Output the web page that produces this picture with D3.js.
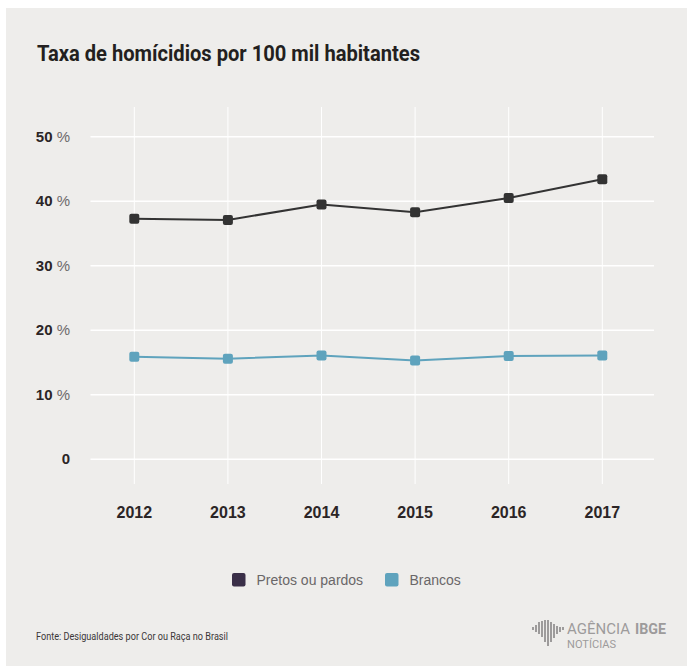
<!DOCTYPE html>
<html>
<head>
<meta charset="utf-8">
<script src="https://cdn.jsdelivr.net/npm/d3@7"></script>
<style>
  body { margin: 0; background: #fff; }
  svg { display: block; }
</style>
</head>
<body>
<div id="chart"></div>
<script>
// chart data
const years   = ["2012", "2013", "2014", "2015", "2016", "2017"];
const pretos  = [37.3, 37.1, 39.5, 38.3, 40.5, 43.4];
const brancos = [15.9, 15.6, 16.1, 15.3, 16.0, 16.1];
const yTicks  = [0, 10, 20, 30, 40, 50];
const seriesNames  = ["Pretos ou pardos", "Brancos"];
const seriesColors = ["#333333", "#5fa3bd"];
const legendColors = ["#3a2f48", "#5fa3bd"];

const WIDTH = 687, HEIGHT = 666;
const NARROW = "'Roboto', 'Liberation Sans', sans-serif";

const svg = d3.select("#chart")
              .append("svg")
                .attr("width", WIDTH)
                .attr("height", HEIGHT);

// grey panel
svg.append("rect")
   .attr("x", 6).attr("y", 8)
   .attr("width", WIDTH - 6).attr("height", HEIGHT - 8)
   .attr("fill", "#eeedeb");

// title (condensed look via textLength)
svg.append("text")
   .attr("x", 37).attr("y", 61)
   .attr("font-family", NARROW)
   .attr("font-weight", "bold")
   .attr("font-size", 22)
   .attr("fill", "#231f20")
   .attr("textLength", 383)
   .attr("lengthAdjust", "spacingAndGlyphs")
   .text("Taxa de homícidios por 100 mil habitantes");

// scales
const x = d3.scalePoint()
            .domain(years)
            .range([134.3, 602.3]);
const y = d3.scaleLinear()
            .domain([0, 50])
            .range([459.3, 136.7]);

// grid
const grid = svg.append("g");
grid.selectAll("line.v")
    .data(years)
    .join("line")
      .attr("class", "v")
      .attr("x1", d => x(d)).attr("x2", d => x(d))
      .attr("y1", 107).attr("y2", 484)
      .attr("stroke", "#ffffff")
      .attr("stroke-width", 1);
grid.selectAll("line.h")
    .data(yTicks)
    .join("line")
      .attr("class", "h")
      .attr("x1", 90.5).attr("x2", 654)
      .attr("y1", d => y(d)).attr("y2", d => y(d))
      .attr("stroke", "#ffffff")
      .attr("stroke-width", 1.6);

// y axis labels : bold number + light "%"
const yl = svg.append("g")
              .attr("font-family", "'Liberation Sans', Arial, sans-serif")
              .attr("font-size", 15);
yl.selectAll("text")
  .data(yTicks)
  .join("text")
    .attr("x", 70)
    .attr("y", d => y(d) + 5)
    .attr("text-anchor", "end")
    .each(function(d) {
        const t = d3.select(this);
        t.append("tspan").attr("font-weight", "bold").attr("fill", "#2b2526").text(d);
        if (d !== 0) t.append("tspan").attr("fill", "#6d6a6b").text(" %");
    });

// x axis labels
svg.append("g")
   .selectAll("text")
   .data(years)
   .join("text")
     .attr("x", d => x(d))
     .attr("y", 518)
     .attr("text-anchor", "middle")
     .attr("font-family", "'Liberation Sans', Arial, sans-serif")
     .attr("font-weight", "bold")
     .attr("font-size", 16)
     .attr("fill", "#2b2526")
     .text(d => d);

// series
const series = [pretos, brancos];
const line = d3.line()
               .x((d, i) => x(years[i]))
               .y(d => y(d));

series.forEach((vals, k) => {
    const g = svg.append("g");
    g.append("path")
     .datum(vals)
     .attr("d", line)
     .attr("fill", "none")
     .attr("stroke", seriesColors[k])
     .attr("stroke-width", 2);
    g.selectAll("rect")
     .data(vals)
     .join("rect")
       .attr("x", (d, i) => x(years[i]) - 5)
       .attr("y", d => y(d) - 5)
       .attr("width", 10).attr("height", 10)
       .attr("rx", 2)
       .attr("fill", seriesColors[k]);
});

// legend
const legendX = [232, 385];
const legend = svg.append("g")
                  .selectAll("g")
                  .data(seriesNames)
                  .join("g")
                    .attr("transform", (d, i) => `translate(${legendX[i]}, 573)`);
legend.append("rect")
      .attr("width", 13.5).attr("height", 13.5)
      .attr("rx", 2)
      .attr("fill", (d, i) => legendColors[i]);
legend.append("text")
      .attr("x", 24.5).attr("y", 12)
      .attr("font-family", "'Liberation Sans', Arial, sans-serif")
      .attr("font-size", 14)
      .attr("fill", "#6a6768")
      .text(d => d);

// source
svg.append("text")
   .attr("x", 36).attr("y", 640)
   .attr("font-family", NARROW)
   .attr("font-size", 10.5)
   .attr("fill", "#3b3738")
   .attr("textLength", 192)
   .attr("lengthAdjust", "spacingAndGlyphs")
   .text("Fonte: Desigualdades por Cor ou Raça no Brasil");

// logo : Agência IBGE Notícias
const logo = svg.append("g").attr("fill", "#9d9b9b");
const barH = [3, 7, 12, 16, 22, 26, 20, 14, 8, 5, 3];
const barY = [-1, -3, -6, -7, -8, -8, -6, -4, -2, -1, -1];
barH.forEach((h, i) => {
    logo.append("rect")
        .attr("x", 532 + i * 3).attr("y", 628 + barY[i])
        .attr("width", 2).attr("height", h);
});
logo.append("text")
    .attr("x", 567).attr("y", 634)
    .attr("font-family", NARROW)
    .attr("font-size", 15)
    .attr("textLength", 63)
    .attr("lengthAdjust", "spacingAndGlyphs")
    .text("AGÊNCIA");
logo.append("text")
    .attr("x", 635).attr("y", 634)
    .attr("font-family", NARROW)
    .attr("font-size", 15)
    .attr("font-weight", "bold")
    .attr("textLength", 31)
    .attr("lengthAdjust", "spacingAndGlyphs")
    .text("IBGE");
logo.append("text")
    .attr("x", 567).attr("y", 648)
    .attr("font-family", NARROW)
    .attr("font-size", 11)
    .attr("textLength", 49)
    .attr("lengthAdjust", "spacingAndGlyphs")
    .text("NOTÍCIAS");
</script>
</body>
</html>
